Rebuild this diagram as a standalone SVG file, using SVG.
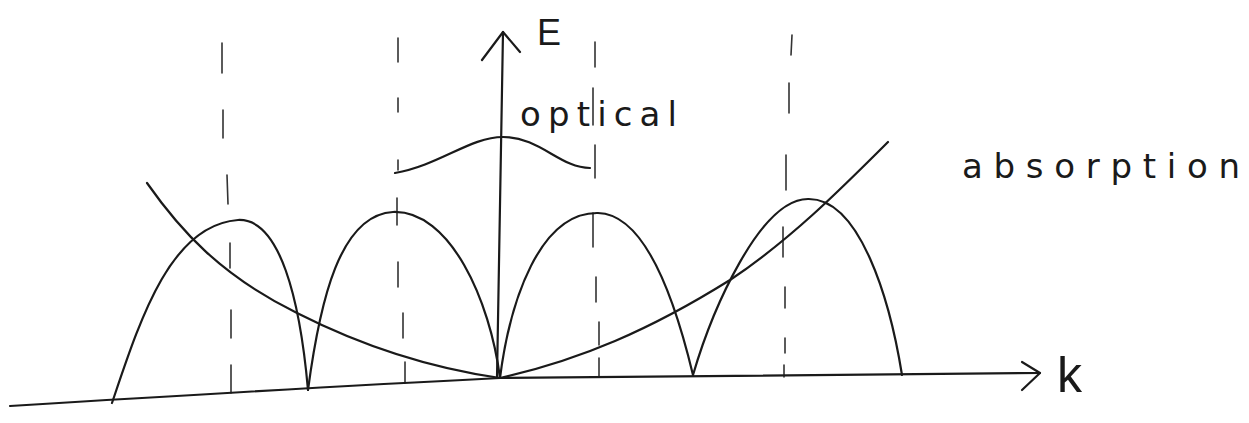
<svg xmlns="http://www.w3.org/2000/svg" width="1249" height="423" viewBox="0 0 1249 423">
<style>
.c{fill:none;stroke:#1a1a1a;stroke-width:2.2;stroke-linecap:round;stroke-linejoin:round}
.d{fill:none;stroke:#333;stroke-width:1.6;stroke-linecap:round}
.t{font-family:"Liberation Sans","DejaVu Sans",sans-serif;fill:#1a1a1a}
.h{font-family:"DejaVu Sans","Liberation Sans",sans-serif;fill:#1a1a1a}
</style>
<rect width="1249" height="423" fill="#fff"/>
<g id="dashed-lines">
<path class="d" d="M222,43L222,73M223,110L223,138M227,175L228,204M230,243L230,268M231,310L231,338M231,365L231,393"/>
<path class="d" d="M398,38L398,62M398,98L398,112M398,160L398,170M397,198L397,225M398,262L398,287M403,313L403,338M405,362L405,383"/>
<path class="d" d="M595,42L595,67M593,88L593,125M595,145L595,178M593,213L593,247M596,277L596,302M599,322L599,345M599,358L599,377"/>
<path class="d" d="M792,35L791,55M789,83L789,113M786,155L786,190M783,227L783,257M785,287L785,308M785,338L785,353M784,365L784,377"/>
</g>
<g id="axes">
<path class="c" d="M10,406 Q300,388 500,378 L1040,373"/>
<path class="c" d="M1022,362 L1040,373 L1022,390"/>
<path class="c" d="M497,378 L503,32"/>
<path class="c" d="M482,60 L503,32 L520,52"/>
</g>
<g id="acoustic">
<path class="c" d="M112,403 C140,320 170,225 238,220 C280,218 300,300 308,390"/>
<path class="c" d="M308,390 C320,300 340,215 393,212 C450,210 490,300 500,378"/>
<path class="c" d="M500,378 C510,300 540,212 598,213 C645,214 675,300 693,375"/>
<path class="c" d="M693,375 C712,310 760,199 808,199 C860,198 890,300 902,375"/>
</g>
<g id="optical">
<path class="c" d="M395,173 C440,165 470,137 503,137 C540,137 560,168 590,168"/>
</g>
<g id="absorption">
<path class="c" d="M147,183 C180,230 220,275 297,313 C360,345 430,368 500,378"/>
<path class="c" d="M500,378 C580,360 650,330 730,280 C790,240 840,190 888,142"/>
</g>
<g id="labels">
<text class="t" x="537" y="45" font-size="36">E</text>
<text class="t" x="1057" y="392" font-size="50">k</text>
<text class="h" x="520" y="126" font-size="34" textLength="157" lengthAdjust="spacing">optical</text>
<text class="h" x="962" y="178" font-size="34" textLength="278" lengthAdjust="spacing">absorption</text>
</g>
</svg>
